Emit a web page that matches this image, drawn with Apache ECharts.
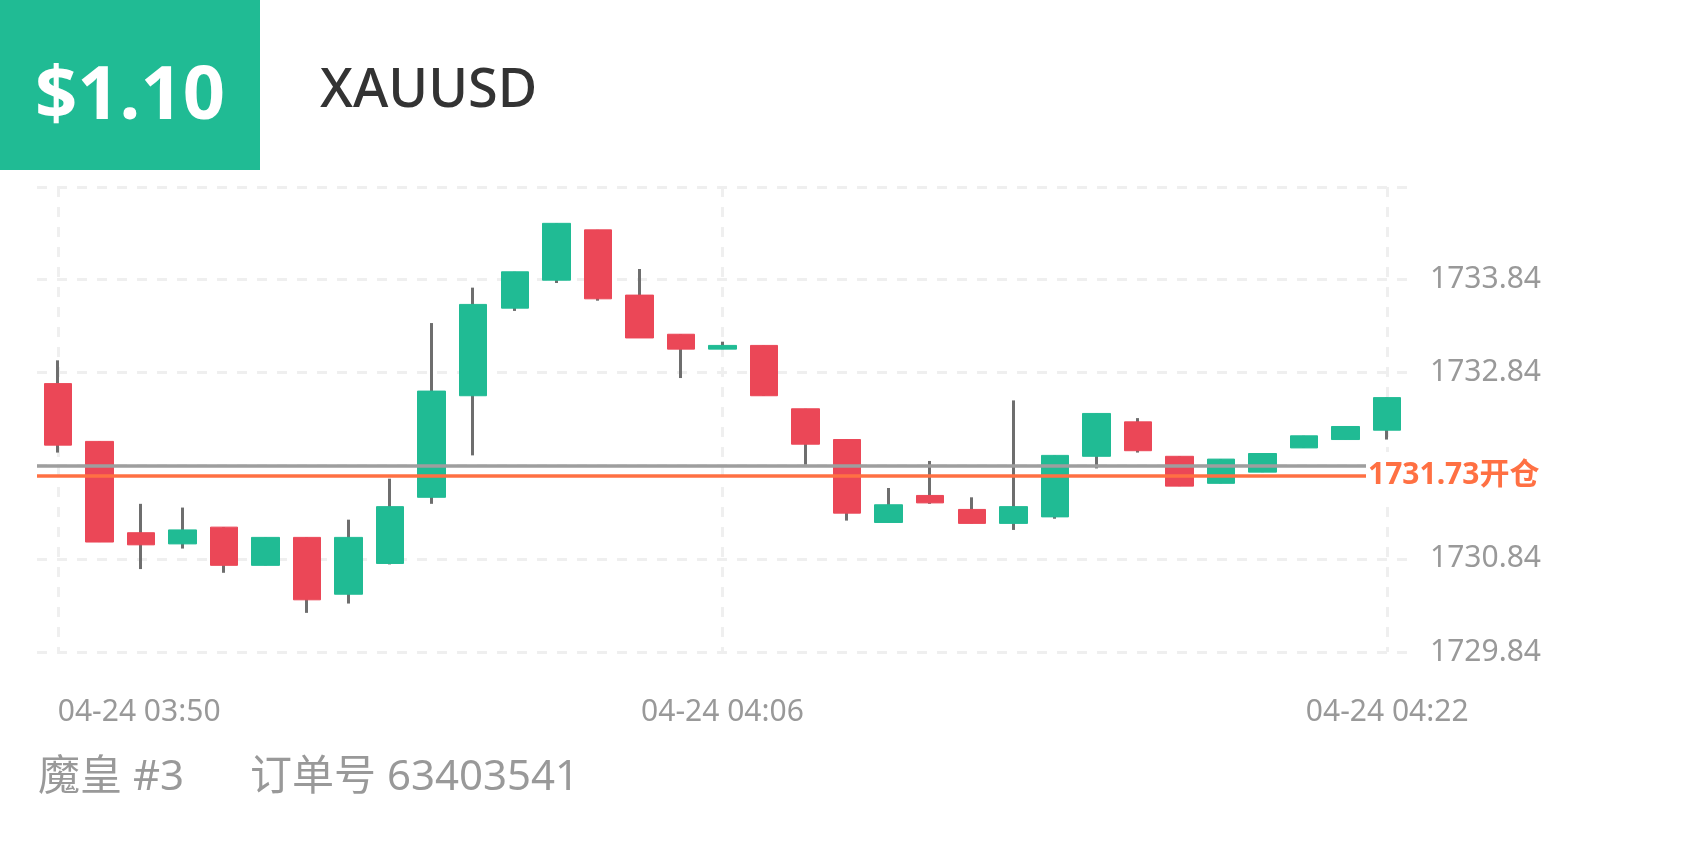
<!DOCTYPE html>
<html>
<head>
<meta charset="utf-8">
<script src="https://cdn.jsdelivr.net/npm/echarts@6/dist/echarts.min.js"></script>
<style>
html,body{margin:0;padding:0;background:#fff;}
#chart{width:1688px;height:844px;}
</style>
</head>
<body>
<div id="chart"></div>
<script>
// ---- data ----
const categories = [
  '04-24 03:50','04-24 03:51','04-24 03:52','04-24 03:53','04-24 03:54','04-24 03:55','04-24 03:56','04-24 03:57',
  '04-24 03:58','04-24 03:59','04-24 04:00','04-24 04:01','04-24 04:02','04-24 04:03','04-24 04:04','04-24 04:05',
  '04-24 04:06','04-24 04:07','04-24 04:08','04-24 04:09','04-24 04:10','04-24 04:11','04-24 04:12','04-24 04:13',
  '04-24 04:14','04-24 04:15','04-24 04:16','04-24 04:17','04-24 04:18','04-24 04:19','04-24 04:20','04-24 04:21',
  '04-24 04:22'
];
const opens  = [1732.72,1732.10,1731.12,1731.00,1731.18,1730.77,1731.07,1730.46,1730.79,1731.50,1732.59,1733.53,1733.83,1734.37,1733.67,1733.25,1733.09,1733.13,1732.45,1732.12,1731.23,1731.52,1731.37,1731.22,1731.29,1731.94,1732.31,1731.94,1731.65,1731.77,1732.03,1732.12,1732.22];
const closes = [1732.06,1731.02,1730.99,1731.15,1730.77,1731.07,1730.40,1731.07,1731.40,1732.64,1733.57,1733.92,1734.44,1733.63,1733.21,1733.09,1733.13,1732.59,1732.07,1731.33,1731.42,1731.44,1731.22,1731.40,1731.95,1732.40,1732.00,1731.62,1731.91,1731.97,1732.16,1732.26,1732.57];
const lows   = [1731.98,1731.02,1730.73,1730.95,1730.69,1730.77,1730.26,1730.36,1730.78,1731.43,1731.95,1733.50,1733.80,1733.61,1733.21,1732.78,1733.09,1732.59,1731.85,1731.25,1731.23,1731.43,1731.22,1731.15,1731.27,1731.81,1731.98,1731.62,1731.65,1731.77,1732.03,1732.12,1732.12];
const highs  = [1732.97,1732.10,1731.43,1731.39,1731.18,1731.07,1731.07,1731.26,1731.70,1733.37,1733.75,1733.92,1734.44,1734.37,1733.95,1733.25,1733.17,1733.13,1732.45,1732.12,1731.60,1731.89,1731.50,1732.54,1731.95,1732.40,1732.35,1731.94,1731.91,1731.97,1732.16,1732.26,1732.57];
const currentPrice = 1731.84;
const openPrice = 1731.73;
const yMin = 1729.84;
const yMax = 1734.83;
const yStep = 1;
const priceTag = '$1.10';
const symbolName = 'XAUUSD';
const footerLeft = '魔皇 #3';
const footerRight = '订单号 63403541';

// ---- build ----
const GREEN = '#20BB94';
const RED = '#EB4757';
const WICK = '#6E6E6E';
const FONT = '"Noto Sans", "Noto Sans CJK SC", sans-serif';

const wickData = opens.map((o, i) => [o, closes[i], lows[i], highs[i]]);
const bodyData = opens.map((o, i) => [o, closes[i], Math.min(o, closes[i]), Math.max(o, closes[i])]);

const chart = echarts.init(document.getElementById('chart'), null, {renderer: 'canvas'});
chart.setOption({
  animation: false,
  backgroundColor: '#fff',
  textStyle: {fontFamily: FONT},
  grid: {left: 37, right: 280, top: 187, bottom: 192, containLabel: false},
  xAxis: {
    type: 'category',
    data: categories,
    boundaryGap: true,
    axisLine: {show: false},
    axisTick: {show: false},
    axisLabel: {
      interval: 15,
      color: '#999',
      fontSize: 30,
      fontFamily: FONT,
      margin: 45,
      alignMinLabel: 'left'
    },
    splitLine: {
      show: true,
      interval: 15,
      alignWithLabel: true,
      lineStyle: {color: '#EFEFEF', width: 3, type: [10, 10]}
    }
  },
  yAxis: {
    type: 'value',
    position: 'right',
    min: yMin,
    max: yMax,
    interval: yStep,
    scale: true,
    axisLine: {show: false},
    axisTick: {show: false},
    axisLabel: {
      color: '#999',
      fontSize: 30,
      fontFamily: FONT,
      margin: 22,
      showMaxLabel: false,
      formatter: v => Math.abs(v - currentPrice) < 1e-6 ? '' : v.toFixed(2)
    },
    splitLine: {show: true, lineStyle: {color: '#EFEFEF', width: 3, type: [10, 10]}}
  },
  series: [
    {
      type: 'candlestick',
      name: 'wick',
      data: wickData,
      barWidth: 1,
      silent: true,
      itemStyle: {color: WICK, color0: WICK, borderColor: WICK, borderColor0: WICK, borderWidth: 3}
    },
    {
      type: 'candlestick',
      name: 'body',
      data: bodyData,
      barWidth: 28,
      silent: true,
      itemStyle: {color: GREEN, color0: RED, borderColor: GREEN, borderColor0: RED, borderWidth: 1},
      markLine: {
        silent: true,
        symbol: 'none',
        animation: false,
        data: [
          {
            yAxis: currentPrice,
            lineStyle: {color: '#9E9E9E', width: 3.5, type: 'solid'},
            label: {show: false}
          },
          {
            yAxis: openPrice,
            lineStyle: {color: '#FF7043', width: 3.5, type: 'solid'},
            label: {
              show: true,
              position: 'end',
              distance: [-42, 0],
              formatter: openPrice.toFixed(2) + '开仓',
              color: '#FF7043',
              fontSize: 30,
              fontWeight: 'bold',
              fontFamily: FONT,
              backgroundColor: '#fff',
              padding: [16, 8, 2, 2]
            }
          }
        ]
      }
    }
  ],
  graphic: [
    {type: 'rect', left: 0, top: 0, shape: {width: 260, height: 170}, style: {fill: GREEN}, z: 10},
    {type: 'text', x: 130, y: 98, z: 11, style: {text: priceTag, fill: '#fff', font: 'bold 74px ' + FONT, textAlign: 'center', textVerticalAlign: 'middle'}},
    {type: 'text', x: 320, y: 92, z: 11, style: {text: symbolName, fill: '#333', font: '500 54px ' + FONT, textAlign: 'left', textVerticalAlign: 'middle'}},
    {type: 'text', x: 38, y: 778, z: 11, style: {text: footerLeft, fill: '#999', font: '42px ' + FONT, textAlign: 'left', textVerticalAlign: 'middle'}},
    {type: 'text', x: 250, y: 778, z: 11, style: {text: footerRight, fill: '#999', font: '42px ' + FONT, textAlign: 'left', textVerticalAlign: 'middle'}}
  ]
});
</script>
</body>
</html>
